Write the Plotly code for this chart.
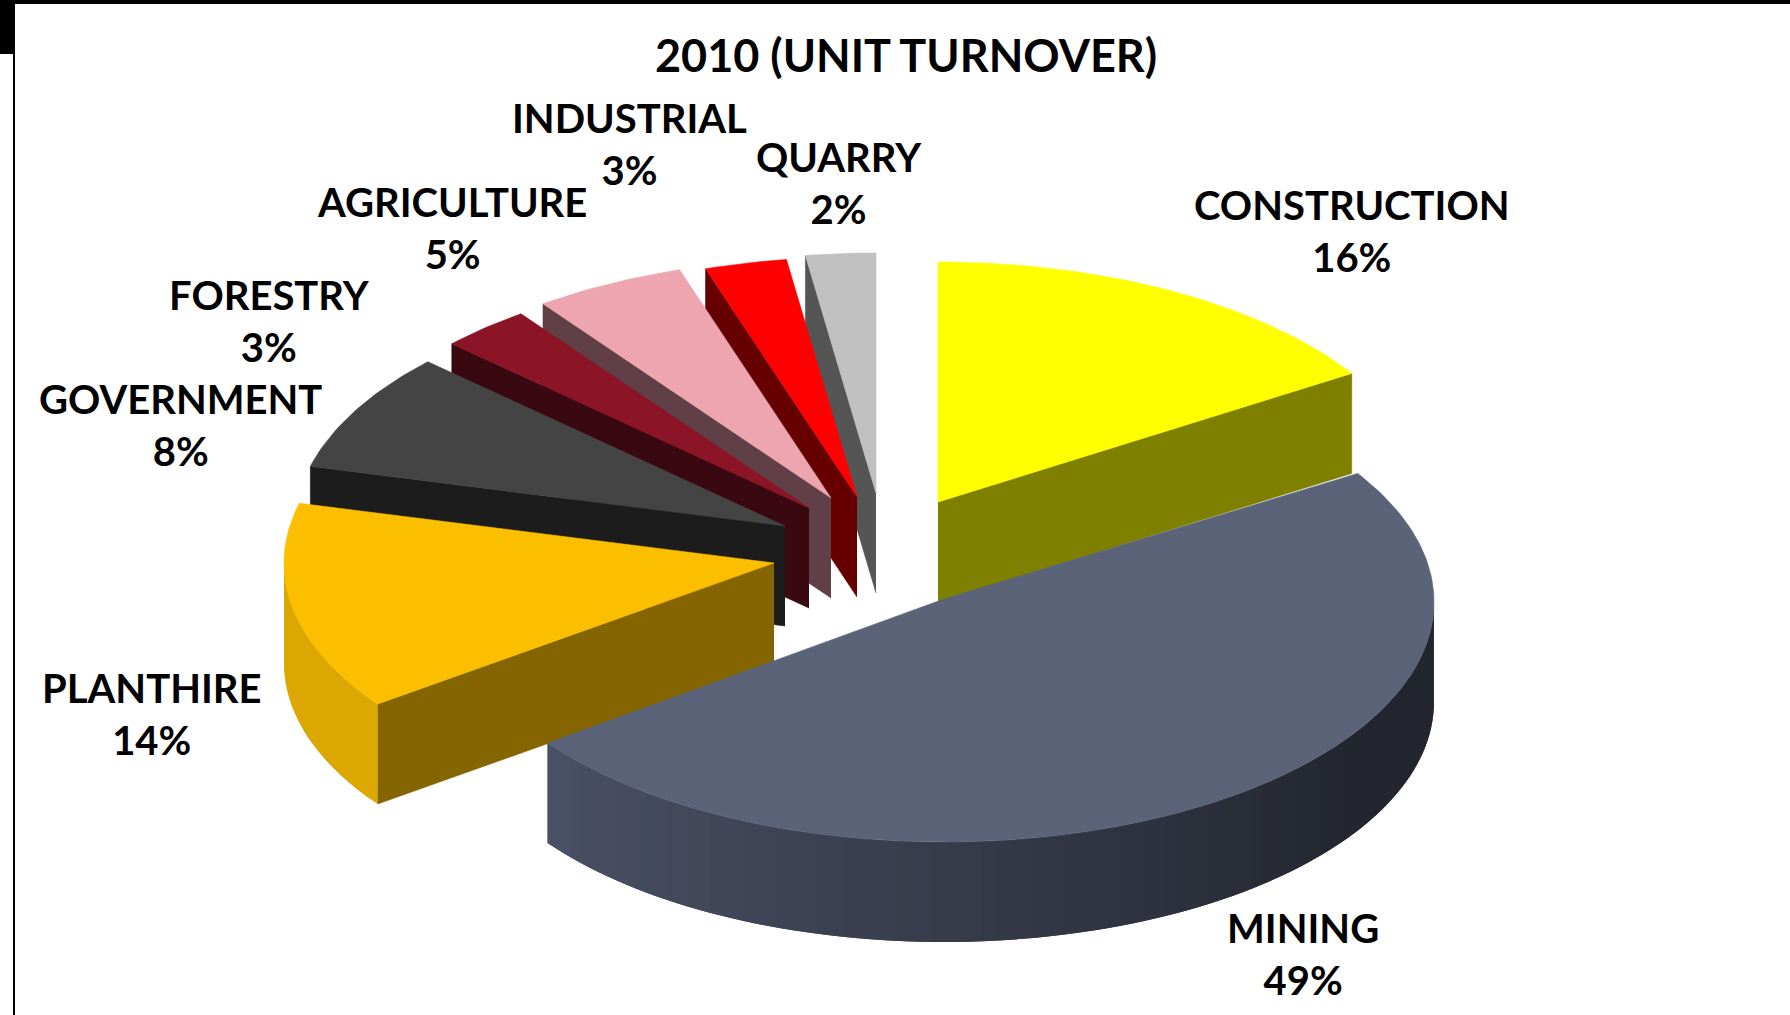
import plotly.graph_objects as go
import numpy as np

# data, labels show them rounded
categories = ["CONSTRUCTION", "MINING", "PLANTHIRE", "GOVERNMENT", "FORESTRY", "AGRICULTURE", "INDUSTRIAL", "QUARRY"]
shares = [16, 49, 14, 8, 3, 5, 2.7, 2.3]
title = "2010 (UNIT TURNOVER)"

# colours
top_colors = ["#FFFF00", "#5A6378", "#FCBF00", "#444444", "#8B1526", "#EDA5B0", "#FF0000", "#C0C0C0"]
face_colors = ["#808000", None, "#856500", "#1C1C1C", "#3A0810", "#604046", "#660000", "#555555"]
wall_colors = [None, ("#4B5166", "#23262F"), ("#DCA700", "#DCA700"), None, None, None, None, None]

# tilted pie geometry in page pixels
cx, cy = 878, 545
rx, ry = 490, 240
depth = 100
explode_x = [60, 66, -104, -93, -69, -47, -21, -2]
explode_y = [-43, 57, 18, -19, -37, -47, -48, -52]
# the picture has some perspective, the point of the big slice sits off its chord
tip_x = [0, 0, 0, 0, 0, 0, 0, 0]
tip_y = [0, -3, 0, 0, 0, 0, 0, 0]

# which cut side faces the viewer
show_start_face = [False, False, True, True, True, True, True, True]
show_end_face = [True, False, False, False, False, False, False, False]

label_x = [1352, 1303, 152, 180, 269, 452, 629, 839]
label_y = [231, 954, 714, 425, 321, 228, 144, 183]
label_size = 40
font_family = "Lato"


def rim(a, b, ox, oy, n=None):
    # points on the rim between two clockwise angles, 0 deg is straight up
    n = n or max(int(abs(b - a)) + 2, 2)
    t = np.radians(np.linspace(a, b, n))
    return ox + rx * np.sin(t), oy - ry * np.cos(t)


def hex_mix(c1, c2, f):
    a = [int(c1[i:i + 2], 16) for i in (1, 3, 5)]
    b = [int(c2[i:i + 2], 16) for i in (1, 3, 5)]
    m = [round(a[i] + (b[i] - a[i]) * f) for i in range(3)]
    return "#%02X%02X%02X" % tuple(m)


def poly(fig, xs, ys, color, width=0.6):
    fig.add_trace(go.Scatter(x=list(xs), y=list(ys), mode="lines", fill="toself", fillcolor=color,
                             line=dict(color=color, width=width), hoverinfo="skip", showlegend=False))


fig = go.Figure()

edges = np.concatenate([[0], np.cumsum(shares)]) * 3.6

# back slices first, the big front slices have to cover them
order = [7, 6, 5, 4, 3, 2, 0, 1]
for i in order:
    a, b = edges[i], edges[i + 1]
    ox, oy = cx + explode_x[i], cy + explode_y[i]
    px, py = ox + tip_x[i], oy + tip_y[i]

    if show_start_face[i]:
        rx0, ry0 = rim(a, a, ox, oy, 2)
        poly(fig, [px, rx0[0], rx0[0], px], [py, ry0[0], ry0[0] + depth, py + depth], face_colors[i])
    if show_end_face[i]:
        rx0, ry0 = rim(b, b, ox, oy, 2)
        poly(fig, [px, rx0[0], rx0[0], px], [py, ry0[0], ry0[0] + depth, py + depth], face_colors[i])

    # outer wall, only the part between 90 and 270 deg can be seen
    lo, hi = max(a, 90), min(b, 270)
    if wall_colors[i] and hi > lo:
        # each step overlaps the next one, so no seams show
        steps = np.arange(lo, hi, 1.5).tolist() + [hi]
        for s0, s1 in zip(steps[:-1], steps[1:]):
            # dark on the right, lighter towards the left
            f = min(1, max(0, (234 - s0) / 110)) if i == 1 else 0
            col = hex_mix(wall_colors[i][0], wall_colors[i][1], f)
            wx, wy = rim(s0, min(s1 + 1.5, hi), ox, oy, 4)
            poly(fig, np.r_[wx, wx[::-1]], np.r_[wy, wy[::-1] + depth], col, 0)

    tx, ty = rim(a, b, ox, oy)
    poly(fig, np.r_[px, tx, px], np.r_[py, ty, py], top_colors[i])

for name, share, lx, ly in zip(categories, shares, label_x, label_y):
    fig.add_annotation(x=lx, y=ly, text="<b>%s<br>%d%%</b>" % (name, round(share)), showarrow=False,
                       xanchor="center", yanchor="middle", align="center",
                       font=dict(family=font_family, size=label_size, color="black"))

fig.add_annotation(x=906, y=55, text="<b>%s</b>" % title, showarrow=False, xanchor="center", yanchor="middle",
                   font=dict(family=font_family, size=45, color="black"))

# slide frame left over in the corner
frame = [dict(x0=0, x1=1790, y0=0, y1=4), dict(x0=0, x1=14, y0=0, y1=54), dict(x0=13, x1=15, y0=0, y1=1015)]
for s in frame:
    fig.add_shape(type="rect", xref="x", yref="y", fillcolor="black", line_width=0, **s)

fig.update_layout(width=1790, height=1015, margin=dict(l=0, r=0, t=0, b=0), paper_bgcolor="white",
                  plot_bgcolor="white", showlegend=False,
                  xaxis=dict(range=[0, 1790], visible=False, fixedrange=True),
                  yaxis=dict(range=[1015, 0], visible=False, fixedrange=True))

fig.write_html("out.html", config=dict(displayModeBar=False), post_script="document.body.style.margin='0';")
